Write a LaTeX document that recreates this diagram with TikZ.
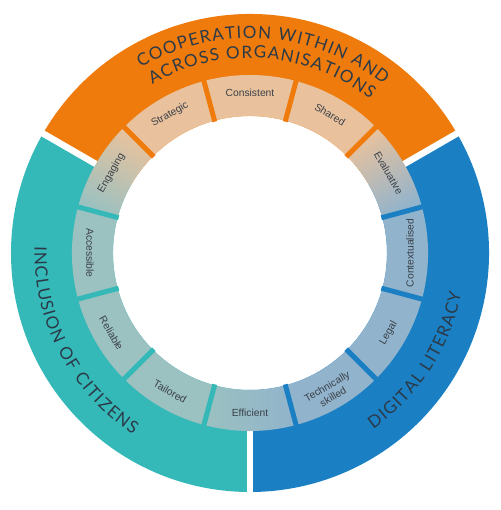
\documentclass[tikz,border=0pt]{standalone}
\usepackage{fontspec}
\newfontfamily\mainlab{Lato}
\newfontfamily\sublabfont{Liberation Sans}
\definecolor{cOrange}{HTML}{EE7B0C}
\definecolor{cTeal}{HTML}{35B9B8}
\definecolor{cBlue}{HTML}{1B80C3}
\definecolor{cPeach}{HTML}{E9C29D}
\definecolor{cTealGrey}{HTML}{9BC1C0}
\definecolor{cBlueGrey}{HTML}{91B3CC}
\definecolor{cMainText}{HTML}{2B3A48}
\definecolor{cSubText}{HTML}{3A4048}
\newcommand\mlfont{\mainlab\fontsize{17}{17}\selectfont}
\newcommand\placechar[4]{\node[anchor=base, inner sep=0pt, outer sep=0pt, text=cMainText, font=\mlfont, rotate=#2] at (#1:#3pt) {#4};}
\ExplSyntaxOn
\dim_new:N \l__ar_total_dim
\dim_new:N \l__ar_w_dim
\fp_new:N \l__ar_cur_fp
\fp_new:N \l__ar_tmp_fp
\box_new:N \l__ar_box
% #1 name, #2 centre angle, #3 baseline radius (pt), #4 direction (1 = ccw, tops inward; -1 = cw, tops outward), #5 extra spacing (pt), #6 text
\cs_new_protected:Npn \PrepArc #1#2#3#4#5#6
  {
    \tl_gclear_new:c { g__ar_#1_tl }
    \dim_zero:N \l__ar_total_dim
    \str_map_inline:nn {#6}
      {
        \hbox_set:Nn \l__ar_box { \mlfont ##1 }
        \dim_add:Nn \l__ar_total_dim { \box_wd:N \l__ar_box + #5 pt }
      }
    \dim_sub:Nn \l__ar_total_dim { #5 pt }
    \fp_set:Nn \l__ar_cur_fp { (#2) - (#4) * ( \dim_to_fp:n { \l__ar_total_dim } / 2 / (#3) ) * 180 / pi }
    \str_map_inline:nn {#6}
      {
        \hbox_set:Nn \l__ar_box { \mlfont ##1 }
        \dim_set:Nn \l__ar_w_dim { \box_wd:N \l__ar_box }
        \fp_set:Nn \l__ar_tmp_fp { \l__ar_cur_fp + (#4) * ( \dim_to_fp:n { \l__ar_w_dim } / 2 / (#3) ) * 180 / pi }
        \tl_gput_right:cx { g__ar_#1_tl }
          { \exp_not:N \placechar { \fp_eval:n { round(\l__ar_tmp_fp, 4) } } { \fp_eval:n { round(\l__ar_tmp_fp + (#4) * 90, 4) } } {#3} { \exp_not:n {##1} } }
        \fp_set:Nn \l__ar_cur_fp { \l__ar_cur_fp + (#4) * ( ( \dim_to_fp:n { \l__ar_w_dim } + (#5) ) / (#3) ) * 180 / pi }
      }
  }
\cs_new_protected:Npn \UseArc #1 { \tl_use:c { g__ar_#1_tl } }
\ExplSyntaxOff
\tikzset{
  sector/.style n args={4}{insert path={(#1:#3) arc[start angle=#1,end angle=#2,radius=#3] -- (#2:#4) arc[start angle=#2,end angle=#1,radius=#4] -- cycle}},
  sublab/.style={font=\sublabfont\fontsize{10.3}{11.8}\selectfont, text=cSubText, align=center, inner sep=0pt},
  sep/.style={line width=5pt, line cap=butt},
  gapline/.style={white, line width=6.5pt, line cap=butt}
}
\begin{document}
\PrepArc{coop}{86}{215}{-1}{1.3}{COOPERATION WITHIN AND}
\PrepArc{across}{86}{195}{-1}{1.3}{ACROSS ORGANISATIONS}
\PrepArc{incl}{207.7}{215.5}{1}{1.3}{INCLUSION OF CITIZENS}
\PrepArc{digi}{-32.8}{215}{1}{1.3}{DIGITAL LITERACY}
\begin{tikzpicture}[x=1pt,y=1pt]
\useasboundingbox (-250,-257) rectangle (250,253);
% main ring
\path[fill=cOrange, sector={30}{150}{137pt}{239pt}];
\path[fill=cTeal, sector={150}{270}{137pt}{239pt}];
\path[fill=cBlue, sector={270}{390}{137pt}{239pt}];
% sub segments
\path[fill=cPeach, sector={45}{135}{137pt}{178pt}];
\path[fill=cBlueGrey, sector={-75}{15}{137pt}{178pt}];
\path[fill=cTealGrey, sector={165}{255}{137pt}{178pt}];
\shade[top color=cPeach, bottom color=cTealGrey, shading angle=-30, sector={135}{165}{137pt}{178pt}];
\shade[top color=cPeach, bottom color=cBlueGrey, shading angle=30, sector={15}{45}{137pt}{178pt}];
\shade[left color=cTealGrey, right color=cBlueGrey, sector={255}{285}{137pt}{178pt}];
% separators
\foreach \a in {45,75,105,135} \draw[sep, cOrange] (\a:136pt) -- (\a:178.5pt);
\foreach \a in {165,195,225,255} \draw[sep, cTeal] (\a:136pt) -- (\a:178.5pt);
\foreach \a in {285,315,345,15} \draw[sep, cBlue] (\a:136pt) -- (\a:178.5pt);
% gaps
\foreach \a in {30,150,270} \draw[gapline] (\a:178pt) -- (\a:246pt);
% sub labels
\node[sublab, rotate=0] (consistent) at (90:160pt) {Consistent};
\node[sublab, rotate=-30] (shared) at (60:160pt) {Shared};
\node[sublab, rotate=-60] (evaluative) at (30:160pt) {Evaluative};
\node[sublab, rotate=30] (strategic) at (120:160pt) {Strategic};
\node[sublab, rotate=60] (engaging) at (150:160pt) {Engaging};
\node[sublab, rotate=90] (context) at (0:160pt) {Contextualised};
\node[sublab, rotate=60] (legal) at (-30:160pt) {Legal};
\node[sublab, rotate=30] (technical) at (-60:160pt) {Technically\\skilled};
\node[sublab, rotate=0] (efficient) at (-90:160pt) {Efficient};
\node[sublab, rotate=-30] (tailored) at (-120:160pt) {Tailored};
\node[sublab, rotate=-60] (reliable) at (-150:160pt) {Reliable};
\node[sublab, rotate=-90] (accessible) at (180:160pt) {Accessible};
% main labels
\UseArc{coop}
\UseArc{across}
\UseArc{incl}
\UseArc{digi}
\end{tikzpicture}
\end{document}
